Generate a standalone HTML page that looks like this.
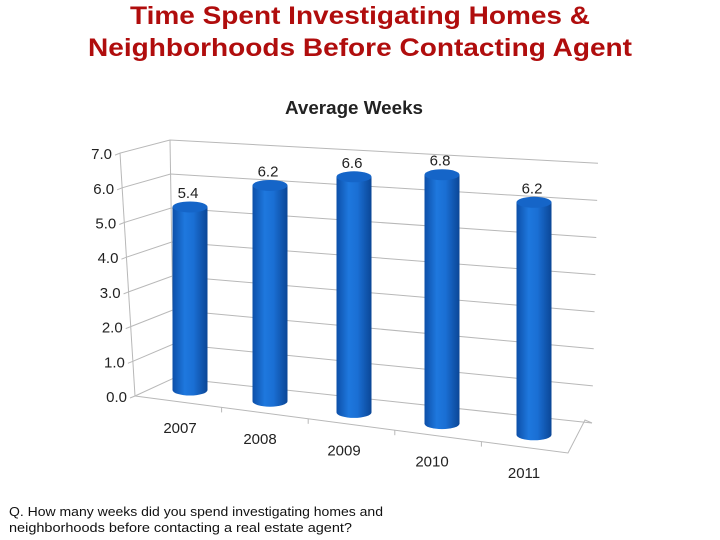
<!DOCTYPE html>
<html><head><meta charset="utf-8"><style>
html,body{margin:0;padding:0;background:#fff;}
svg{display:block;}
</style></head><body>
<svg id="chart" width="720" height="540" viewBox="0 0 720 540" xmlns="http://www.w3.org/2000/svg">
<defs>
<linearGradient id="cyl" x1="0" x2="1" y1="0" y2="0">
<stop offset="0" stop-color="#0d4fa8"/><stop offset="0.35" stop-color="#1e78de"/><stop offset="0.6" stop-color="#1a6fd4"/><stop offset="1" stop-color="#0b4696"/>
</linearGradient>
</defs>
<text x="360" y="24" text-anchor="middle" font-family="Liberation Sans, sans-serif" font-weight="bold" font-size="25" fill="#b00d0d" textLength="460" lengthAdjust="spacingAndGlyphs">Time Spent Investigating Homes &amp;</text>
<text x="360" y="56" text-anchor="middle" font-family="Liberation Sans, sans-serif" font-weight="bold" font-size="25" fill="#b00d0d" textLength="544" lengthAdjust="spacingAndGlyphs">Neighborhoods Before Contacting Agent</text>
<text x="354" y="114" text-anchor="middle" font-family="Liberation Sans, sans-serif" font-weight="bold" font-size="18" fill="#222" textLength="138" lengthAdjust="spacingAndGlyphs">Average Weeks</text>
<g id="walls"></g>
<g id="bars"></g>
<text x="9" y="516" font-family="Liberation Sans, sans-serif" font-size="13" fill="#111" textLength="374" lengthAdjust="spacingAndGlyphs">Q. How many weeks did you spend investigating homes and</text>
<text x="9" y="532" font-family="Liberation Sans, sans-serif" font-size="13" fill="#111" textLength="343" lengthAdjust="spacingAndGlyphs">neighborhoods before contacting a real estate agent?</text>
</svg>
<script>
const categories = ["2007","2008","2009","2010","2011"];
const values = [5.4, 6.2, 6.6, 6.8, 6.2];
const ticks = [0,1,2,3,4,5,6,7];
const tickLabels = ["0.0","1.0","2.0","3.0","4.0","5.0","6.0","7.0"];
const NS = "http://www.w3.org/2000/svg";
function mk(tag, attrs, parent){const e=document.createElementNS(NS,tag);for(const k in attrs)e.setAttribute(k,attrs[k]);parent.appendChild(e);return e;}
const walls=document.getElementById('walls'), bars=document.getElementById('bars');
const vmax=7;
function frontX(v){return 135-15*v/vmax;}
function frontY(v){return 396-34.7*v;}
function backLX(v){return 174-4*v/vmax;}
function backLY(v){return 378-34*v;}
function backRX(v){return 592+6*v/vmax;}
function backRY(v){return 423-37.1*v;}
function barX(i){return 190+i*80+i*(i-1)*2;}
function barBase(i){return 390+i*11.2;}
function barScale(i){return 33.9+0.9*i;}
const line={stroke:"#b8b8b8","stroke-width":1,fill:"none"};
let e;
e=mk('line',Object.assign({x1:frontX(0),y1:frontY(0),x2:frontX(vmax),y2:frontY(vmax)},line),walls);

e=mk('line',Object.assign({x1:backLX(0),y1:backLY(0),x2:backLX(vmax),y2:backLY(vmax)},line),walls);

e=mk('polyline',Object.assign({points:`${frontX(0)},${frontY(0)} 568,453 585,420 ${backRX(0)},${backRY(0)}`},line),walls);

ticks.forEach((t,k)=>{
  const g=mk('polyline',Object.assign({points:`${frontX(t)-5},${frontY(t)+2} ${frontX(t)},${frontY(t)} ${backLX(t)},${backLY(t)} ${backRX(t)},${backRY(t)}`},line),walls);
  
  const tx=mk('text',{x:frontX(t)-8,y:frontY(t)+6,"text-anchor":"end","font-family":"Liberation Sans, sans-serif","font-size":"15",fill:"#222"},walls);
  tx.textContent=tickLabels[k];
  
});
for(let j=1;j<categories.length;j++){
  const f=j/categories.length;
  const x=frontX(0)+(568-frontX(0))*f, y=frontY(0)+(453-frontY(0))*f;
  const tk=mk('line',Object.assign({x1:x,y1:y,x2:x,y2:y+5},line),walls);
  
}
categories.forEach((c,i)=>{
  const cx=barX(i), base=barBase(i), top=base-values[i]*barScale(i), rx=17.5, ry=5.5;
  const g=mk('g',{},bars);
  
  mk('path',{d:`M${cx-rx},${top} L${cx-rx},${base} A${rx},${ry} 0 0 0 ${cx+rx},${base} L${cx+rx},${top} Z`,fill:"url(#cyl)"},g);
  mk('ellipse',{cx:cx,cy:top,rx:rx,ry:ry,fill:"#1565c8"},g);
  const vl=mk('text',{x:cx-2,y:top-9,"text-anchor":"middle","font-family":"Liberation Sans, sans-serif","font-size":"15",fill:"#222"},bars);
  vl.textContent=values[i].toFixed(1);
  
  const cl=mk('text',{x:cx-10,y:base+43,"text-anchor":"middle","font-family":"Liberation Sans, sans-serif","font-size":"15",fill:"#222"},bars);
  cl.textContent=c;
  
});
</script>
</body></html>
